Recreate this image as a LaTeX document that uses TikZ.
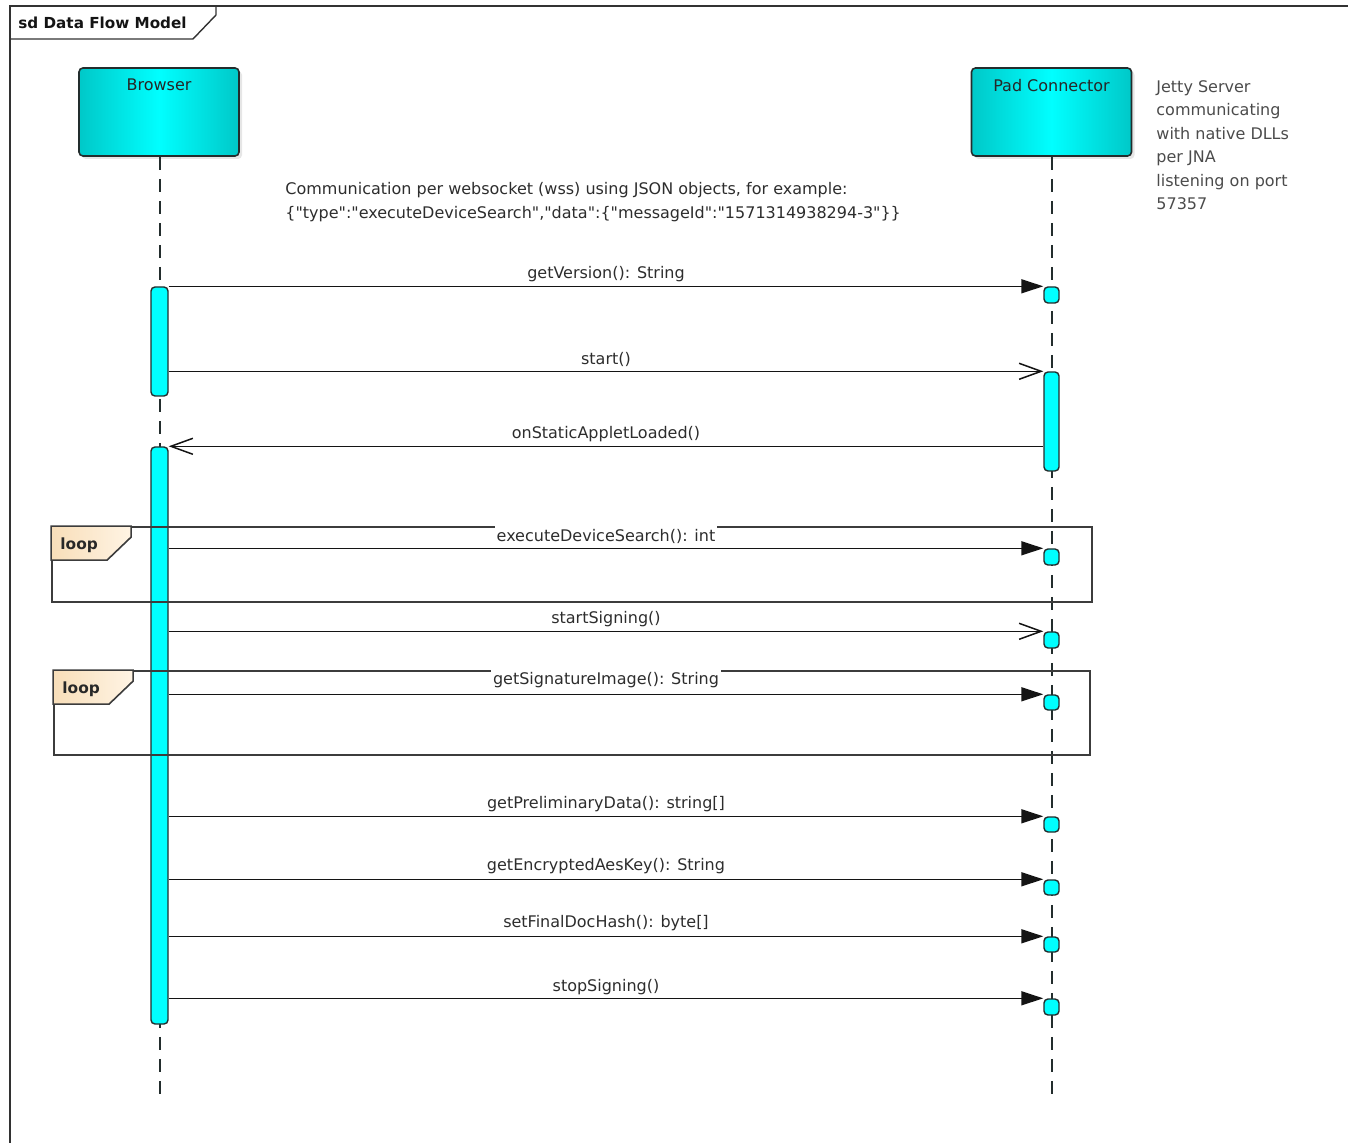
\documentclass[tikz,border=0pt]{standalone}
\usepackage{fontspec}
\setmainfont{DejaVu Sans}
\newfontfamily\plainfont{DejaVu Sans}[Ligatures=TeXOff]
\usetikzlibrary{arrows.meta,fit,shadows,calc}
\definecolor{cy}{RGB}{0,255,255}
\definecolor{cydark}{RGB}{0,200,200}
\definecolor{edge}{RGB}{35,45,45}
\definecolor{txt}{RGB}{45,45,45}
\definecolor{notetxt}{RGB}{75,75,75}
\definecolor{tagA}{RGB}{248,222,185}
\definecolor{tagB}{RGB}{255,244,228}
\definecolor{msgcol}{RGB}{20,20,20}
\definecolor{loopcol}{RGB}{60,60,60}
\definecolor{framecol}{RGB}{50,50,50}
\definecolor{labelcol}{RGB}{20,20,20}
\definecolor{looptxt}{RGB}{40,40,40}
\begin{document}
\begin{tikzpicture}[x=0.5pt,y=-0.5pt,
  font=\fontsize{8}{12}\selectfont,
  lifebox/.style={draw=edge, line width=0.8pt, rounded corners=2pt, minimum width=80pt, minimum height=44pt,
    left color=cydark, right color=cydark, middle color=cy,
    drop shadow={opacity=0.2, shadow xshift=1.5pt, shadow yshift=-1.5pt}},
  actbar/.style={draw=edge, line width=0.7pt, fill=cy, rounded corners=2pt, inner sep=0pt},
  lifeline/.style={draw=edge, line width=0.7pt, dash pattern=on 6.5pt off 4.5pt},
  msg/.style={draw=msgcol, line width=0.75pt},
  sync/.style={msg, -{Triangle[length=11pt,width=7pt]}},
  async/.style={msg, -{Straight Barb[length=11pt,width=8pt]}},
  lbl/.style={text=txt, inner sep=0.8pt},
  gaplbl/.style={lbl, fill=white, inner ysep=1.2pt},
  loopbox/.style={draw=loopcol, line width=0.9pt, inner sep=0pt},
  looptag/.style={draw=loopcol, line width=0.8pt, left color=tagA, right color=tagB},
  frameline/.style={draw=framecol, line width=0.7pt}
]
\useasboundingbox (0,0) rectangle (1348,1143);

% diagram frame
\coordinate (frTL) at (10,6);
\coordinate (frBL) at (10,1150);
\coordinate (frTR) at (1355,6);
\draw[frameline] (frBL) -- (frTL) -- (frTR);
\draw[frameline] (10,39) -- (193,39) -- (216,15) -- (216,6);
\node[anchor=west, inner sep=0pt, font=\fontsize{7.6}{9}\selectfont\bfseries, text=labelcol] (frameLbl) at (18,22.5) {sd Data Flow Model};

% lifeline heads
\node[lifebox] (browser) at (159,112) {};
\node[anchor=north, lbl, text=black!85] (browserT) at (159,77) {Browser};
\node[lifebox] (pad) at (1051.5,112) {};
\node[anchor=north, lbl, text=black!85] (padT) at (1051.5,77) {Pad Connector};

\coordinate (browserEnd) at (160,1097);
\coordinate (padEnd) at (1052,1097);
\draw[lifeline] (browser.south -| browserEnd) -- (browserEnd);
\draw[lifeline] (pad.south -| padEnd) -- (padEnd);

% notes
\node[anchor=north west, align=left, text=notetxt, inner sep=0pt, font=\fontsize{8}{11.75}\selectfont] (note) at (1156,80) {Jetty Server\\communicating\\with native DLLs\\per JNA\\listening on port\\57357};
\node[anchor=west, align=left, text=txt, inner sep=0pt, font=\plainfont\fontsize{8}{12}\selectfont] (comm) at (285,202) {Communication per websocket (wss) using JSON objects, for example:\\\{"type":"executeDeviceSearch","data":\{"messageId":"1571314938294-3"\}\}};

% activation bars
\path (151,287) coordinate (b1a) (168,396) coordinate (b1b);
\node[actbar, fit=(b1a)(b1b)] (bbar1) {};
\path (151,447) coordinate (b2a) (168,1024) coordinate (b2b);
\node[actbar, fit=(b2a)(b2b)] (bbar2) {};
\path (1044,372) coordinate (p1a) (1059,471) coordinate (p1b);
\node[actbar, fit=(p1a)(p1b)] (pbar) {};

\foreach \nm/\ya/\yb in {sqA/287/303, sqB/549/565, sqC/632/648, sqD/695/710, sqE/817/832, sqF/880/895, sqG/937/952, sqH/999/1015}{
  \path (1044,\ya) coordinate (\nm a) (1059,\yb) coordinate (\nm b);
  \node[actbar, fit=(\nm a)(\nm b)] (\nm) {};
}

% loop frames
\path (52,527) coordinate (l1a) (1092,602) coordinate (l1b);
\node[loopbox, fit=(l1a)(l1b)] (loop1) {};
\draw[looptag] (loop1.north west) -- ++(80,0) -- ++(0,11) -- ++(-24,23) -- ++(-56,0) -- cycle;
\node[anchor=west, inner sep=0pt, font=\fontsize{7.7}{9}\selectfont\bfseries, text=looptxt] (loopT1) at (60,545) {loop};

\path (54,671) coordinate (l2a) (1090,755) coordinate (l2b);
\node[loopbox, fit=(l2a)(l2b)] (loop2) {};
\draw[looptag] (loop2.north west) -- ++(80,0) -- ++(0,11) -- ++(-24,23) -- ++(-56,0) -- cycle;
\node[anchor=west, inner sep=0pt, font=\fontsize{7.7}{9}\selectfont\bfseries, text=looptxt] (loopT2) at (62,689) {loop};

% messages
\draw[sync] (bbar1.north east) -- (sqA.north west);
\node[lbl] (m1) at (606,274) {getVersion(): String};

\draw[async] (bbar1.east |- pbar.north) -- (pbar.north west);
\node[lbl] (m2) at (606,359) {start()};

\draw[async] (pbar.west |- bbar2.north) -- (bbar2.north east);
\node[lbl] (m3) at (606,434) {onStaticAppletLoaded()};

\draw[sync] (bbar2.east |- sqB.north) -- (sqB.north west);
\node[gaplbl] (m4) at (606,536) {executeDeviceSearch(): int};

\draw[async] (bbar2.east |- sqC.north) -- (sqC.north west);
\node[lbl] (m5) at (606,619) {startSigning()};

\draw[sync] (bbar2.east |- sqD.north) -- (sqD.north west);
\node[gaplbl] (m6) at (606,680) {getSignatureImage(): String};

\draw[sync] (bbar2.east |- sqE.north) -- (sqE.north west);
\node[lbl] (m7) at (606,804) {getPreliminaryData(): string[]};

\draw[sync] (bbar2.east |- sqF.north) -- (sqF.north west);
\node[lbl] (m8) at (606,866) {getEncryptedAesKey(): String};

\draw[sync] (bbar2.east |- sqG.north) -- (sqG.north west);
\node[lbl] (m9) at (606,923) {setFinalDocHash(): byte[]};

\draw[sync] (bbar2.east |- sqH.north) -- (sqH.north west);
\node[lbl] (m10) at (606,987) {stopSigning()};
\end{tikzpicture}
\end{document}
